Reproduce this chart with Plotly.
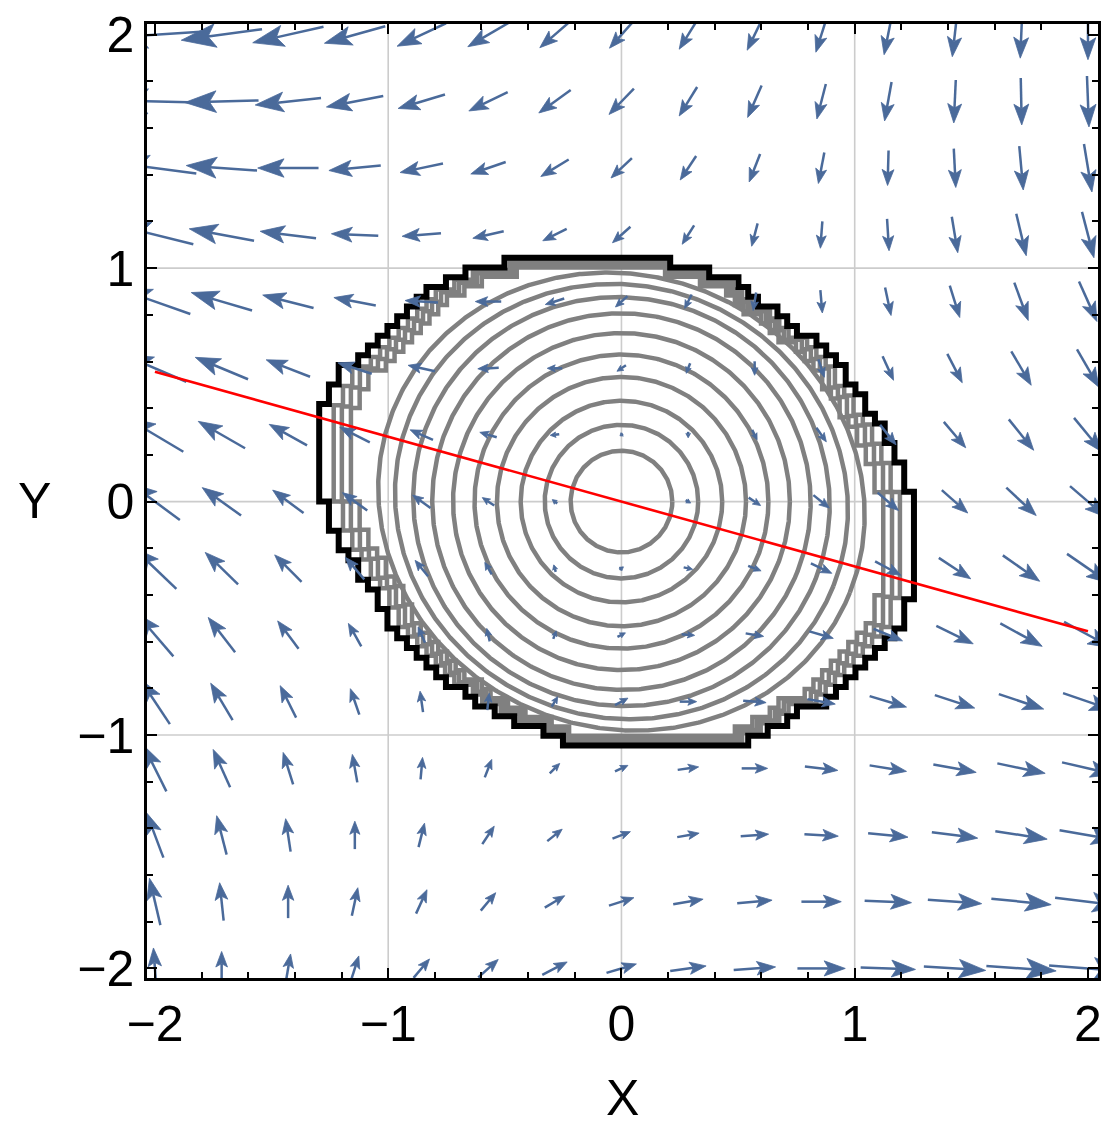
import numpy as np
import plotly.graph_objects as go

# ---------------- data ----------------
# vector grid (15 x 15), columns left->right, rows top->bottom
x_vals = [-2.0, -1.714, -1.429, -1.143, -0.857, -0.571, -0.286, 0.0,
          0.286, 0.571, 0.857, 1.143, 1.429, 1.714, 2.0]
y_vals = [2.0, 1.714, 1.429, 1.143, 0.857, 0.571, 0.286, 0.0,
          -0.286, -0.571, -0.857, -1.143, -1.429, -1.714, -2.0]

# arrow components as drawn (screen pixels, +u right, +v up)
U = [
    [-92, -81, -71, -61, -49, -41, -30, -24, -18, -15, -11, -8, -5, -2, 0],
    [-88, -74, -66, -57, -47, -39, -32, -25, -18, -14, -9, -7, -2, 1, 2],
    [-83, -71, -61, -52, -43, -35, -28, -21, -16, -11, -6, -1, 2, 4, 8],
    [-77, -65, -56, -47, -39, -31, -24, -18, -12, -6, -2, 2, 6, 10, 12],
    [-71, -61, -51, -42, -33, -26, -19, -12, -7, -3, 2, 6, 10, 14, 18],
    [-63, -53, -44, -34, -27, -21, -15, -9, -4, 0, 6, 11, 15, 20, 22],
    [-57, -47, -38, -30, -23, -17, -9, -3, 0, 5, 10, 16, 22, 25, 28],
    [-50, -39, -31, -25, -18, -12, -5, 0, 5, 12, 16, 21, 26, 30, 36],
    [-43, -33, -27, -19, -13, -7, -2, 4, 9, 13, 21, 26, 32, 37, 42],
    [-37, -27, -21, -13, -7, -3, 3, 8, 13, 18, 24, 29, 37, 42, 48],
    [-30, -22, -16, -9, -3, 2, 6, 13, 17, 23, 28, 37, 40, 45, 50],
    [-23, -17, -10, -5, 2, 7, 10, 13, 21, 26, 33, 37, 43, 48, 52],
    [-17, -10, -5, 0, 6, 12, 15, 18, 22, 28, 34, 40, 46, 52, 57],
    [-11, -4, 0, 6, 11, 15, 20, 25, 30, 35, 40, 47, 54, 60, 66],
    [-3, 0, 5, 8, 16, 20, 25, 30, 36, 42, 48, 55, 62, 70, 78],
]
V = [
    [-6, -11, -16, -17, -23, -24, -26, -27, -29, -31, -35, -40, -44, -47, -50],
    [2, -2, -7, -11, -14, -19, -23, -26, -29, -32, -35, -39, -43, -47, -51],
    [11, 5, 0, -5, -9, -12, -17, -20, -24, -28, -31, -35, -39, -44, -48],
    [19, 12, 7, 2, -3, -7, -12, -16, -19, -23, -27, -32, -36, -42, -46],
    [25, 18, 13, 8, 2, 0, -6, -11, -14, -18, -23, -28, -32, -38, -40],
    [27, 22, 17, 11, 6, -1, 0, -6, -10, -14, -18, -24, -29, -34, -38],
    [34, 27, 21, 15, 10, 5, -1, -2, -6, -10, -14, -20, -26, -31, -34],
    [37, 28, 23, 18, 13, 8, 4, 0, -3, -8, -13, -18, -23, -28, -31],
    [41, 32, 27, 22, 16, 12, 7, 3, -2, -5, -10, -14, -21, -26, -29],
    [43, 35, 28, 23, 16, 13, 8, 4, -1, -3, -7, -12, -18, -23, -26],
    [45, 37, 32, 26, 21, 17, 10, 7, 0, -2, -5, -11, -13, -15, -17],
    [46, 38, 32, 28, 22, 18, 10, 6, 3, 0, -4, -6, -8, -10, -12],
    [45, 39, 33, 28, 24, 18, 12, 7, 4, 2, -2, -4, -6, -8, -10],
    [47, 38, 33, 28, 24, 18, 12, 8, 5, 3, 0, -2, -4, -6, -8],
    [41, 34, 29, 25, 19, 18, 13, 9, 5, 3, 0, -2, -4, -5, -6],
]

# smooth inner contour rings: semi-axes and tilt (degrees)
ring_a = [0.218, 0.329, 0.432, 0.534, 0.630, 0.722, 0.812, 0.896, 0.978, 1.054]
ring_b = [0.218, 0.329, 0.432, 0.534, 0.630, 0.722, 0.806, 0.873, 0.925, 0.969]
ring_tilt = [0, 0, 0, 0, 0, 0, -21.7, -21.7, -21.7, -21.7]

# outline of the clipped contour region (counter-clockwise)
bound_x = [1.245, 1.196, 1.127, 1.025, 0.927, 0.842, 0.756, 0.714, 0.600, 0.527,
           0.485, 0.414, 0.286, 0.128, -0.405, -0.560, -0.660, -0.770, -0.846, -0.890,
           -0.930, -0.970, -1.008, -1.040, -1.085, -1.124, -1.202, -1.238, -1.285, -1.285,
           -1.246, -1.210, -1.153, -1.082, -0.968, -0.854, -0.754, -0.655, -0.500, -0.270,
           -0.206, 0.485, 0.600, 0.714, 0.800, 0.897, 0.968, 1.054, 1.110, 1.197, 1.245]
bound_y = [0.000, 0.128, 0.313, 0.441, 0.590, 0.684, 0.726, 0.768, 0.850, 0.904,
           0.939, 0.975, 1.010, 1.045, 1.045, 1.013, 0.990, 0.930, 0.886, 0.849,
           0.814, 0.771, 0.728, 0.694, 0.657, 0.614, 0.570, 0.484, 0.370, 0.071,
           -0.100, -0.157, -0.242, -0.356, -0.556, -0.684, -0.762, -0.826, -0.930, -1.000,
           -1.040, -1.040, -0.997, -0.926, -0.883, -0.840, -0.783, -0.684, -0.612, -0.527, -0.399]
# gray rings hugging the boundary: horizontal / vertical shrink factors
hug_sx = [0.895, 0.925, 0.952]
hug_sy = [0.960, 0.975, 0.988]

# red line
line_x = [-2.0, 2.0]
line_y = [0.556, -0.556]

# ---------------- figure ----------------
PX = 234.0        # screen pixels per data unit
CELL = 0.0418     # mesh cell of the clipped contour region (staircase step)
ARROW = "#4a6a9a"
GRAY = "#808080"

fig = go.Figure()


def pixel_outline(xs, ys, cell):
    """render the outline as the pixel staircase of a mesh with the given cell size"""
    n = len(xs)
    px, py = [], []
    for k in range(n):
        x0, y0 = xs[k], ys[k]
        x1, y1 = xs[(k + 1) % n], ys[(k + 1) % n]
        for s in range(16):
            f = s / 16.0
            gx = round((x0 + (x1 - x0) * f) / cell) * cell
            gy = round((y0 + (y1 - y0) * f) / cell) * cell
            if not px or (abs(gx - px[-1]) > 1e-9 or abs(gy - py[-1]) > 1e-9):
                px.append(gx)
                py.append(gy)
    px.append(px[0])
    py.append(py[0])
    ox, oy = [px[0]], [py[0]]
    for k in range(len(px) - 1):
        x0, y0, x1, y1 = px[k], py[k], px[k + 1], py[k + 1]
        c1 = (x1, y0)
        c2 = (x0, y1)
        c = c1 if (c1[0] ** 2 + c1[1] ** 2) >= (c2[0] ** 2 + c2[1] ** 2) else c2
        ox += [c[0], x1]
        oy += [c[1], y1]
    return np.array(ox), np.array(oy)


# smooth rings
for a, b, tdeg in zip(ring_a, ring_b, ring_tilt):
    th = np.radians(tdeg)
    t = np.linspace(0, 2 * np.pi, 721)
    ex = a * np.cos(t) * np.cos(th) - b * np.sin(t) * np.sin(th)
    ey = a * np.cos(t) * np.sin(th) + b * np.sin(t) * np.cos(th)
    fig.add_trace(go.Scatter(x=ex, y=ey, mode="lines",
                             line=dict(color=GRAY, width=4.5),
                             hoverinfo="skip", showlegend=False))

stx, sty = pixel_outline(bound_x, bound_y, CELL)
for fx, fy in zip(hug_sx, hug_sy):
    fig.add_trace(go.Scatter(x=stx * fx, y=sty * fy, mode="lines",
                             line=dict(color=GRAY, width=4.5),
                             hoverinfo="skip", showlegend=False))
fig.add_trace(go.Scatter(x=stx, y=sty, mode="lines",
                         line=dict(color="black", width=6),
                         hoverinfo="skip", showlegend=False))

# arrows
sx, sy, hx, hy = [], [], [], []
for j, cy in enumerate(y_vals):
    for i, cx in enumerate(x_vals):
        dx = U[j][i] / PX
        dy = V[j][i] / PX
        L = np.hypot(dx, dy)
        if L < 1e-6:
            continue
        ux, uy = dx / L, dy / L
        nx, ny = -uy, ux
        tipx, tipy = cx + dx / 2, cy + dy / 2
        tailx, taily = cx - dx / 2, cy - dy / 2
        hl = min(0.40 * L + 2.0 / PX, 0.75 * L)
        hw = 0.125 * L + 1.6 / PX
        bx, by = tipx - hl * ux, tipy - hl * uy
        notx, noty = tipx - 0.78 * hl * ux, tipy - 0.78 * hl * uy
        sx += [tailx, notx, None]
        sy += [taily, noty, None]
        hx += [tipx, bx + hw * nx, notx, bx - hw * nx, tipx, None]
        hy += [tipy, by + hw * ny, noty, by - hw * ny, tipy, None]

fig.add_trace(go.Scatter(x=sx, y=sy, mode="lines", line=dict(color=ARROW, width=2.5),
                         hoverinfo="skip", showlegend=False))
fig.add_trace(go.Scatter(x=hx, y=hy, mode="lines", fill="toself", fillcolor=ARROW,
                         line=dict(color=ARROW, width=0.8), hoverinfo="skip", showlegend=False))

# red line
fig.add_trace(go.Scatter(x=line_x, y=line_y, mode="lines", line=dict(color="#ff0000", width=2.6),
                         hoverinfo="skip", showlegend=False))

# grid lines
for g in [-1, 0, 1]:
    fig.add_shape(type="line", x0=g, x1=g, y0=0, y1=1, xref="x", yref="paper",
                  line=dict(color="#cccccc", width=1.6), layer="below")
    fig.add_shape(type="line", y0=g, y1=g, x0=0, x1=1, yref="y", xref="paper",
                  line=dict(color="#cccccc", width=1.6), layer="below")

FONT = "Liberation Sans, Arial, Helvetica, sans-serif"
minor_vals = [round(v, 2) for v in np.arange(-2.0, 2.01, 0.2) if abs(v - round(v)) > 1e-6]
axis_common = dict(
    showline=True, linecolor="black", linewidth=2.5, mirror="allticks",
    ticks="inside", ticklen=10, tickwidth=2, tickcolor="black",
    tickvals=[-2, -1, 0, 1, 2], showgrid=False, zeroline=False,
    tickfont=dict(family=FONT, size=50, color="black"),
    minor=dict(ticks="inside", ticklen=6, tickwidth=1.5, tickcolor="black",
               tickvals=minor_vals, showgrid=False),
)
fig.update_xaxes(range=[-2.034, 2.043], **axis_common)
fig.update_yaxes(range=[-2.041, 2.046], **axis_common)

fig.add_annotation(text="X", x=0.5, y=-0.1254, xref="paper", yref="paper",
                   showarrow=False, font=dict(family=FONT, size=50, color="black"),
                   xanchor="center", yanchor="middle")
fig.add_annotation(text="Y", x=-0.118, y=0.5, xref="paper", yref="paper",
                   showarrow=False, font=dict(family=FONT, size=50, color="black"),
                   xanchor="center", yanchor="middle")

fig.update_layout(
    width=1109, height=1130,
    margin=dict(l=147, r=7, t=21, b=152),
    plot_bgcolor="white", paper_bgcolor="white",
)

fig.write_html("out.html")
